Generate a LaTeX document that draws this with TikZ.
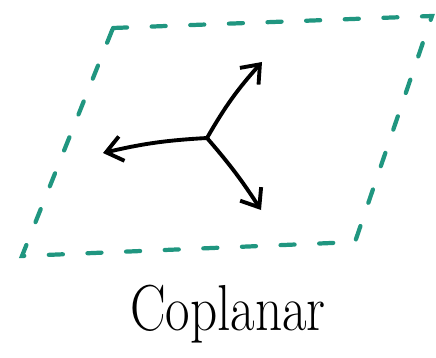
\documentclass[tikz,border=0pt]{standalone}
\usepackage{tikz}
\usetikzlibrary{arrows.meta}
\definecolor{planeteal}{RGB}{32,150,128}

\begin{document}
\begin{tikzpicture}[
  x=0.02cm, y=-0.02cm,
  plane/.style={planeteal,line width=2.4pt,line cap=round,dash pattern=on 8pt off 14pt},
  vector/.style={-{Straight Barb[length=3.2mm,width=5mm]},line width=2.2pt,line cap=round}
]
  \useasboundingbox (0,0) rectangle (436,358);

  % plane corners
  \coordinate (TL) at (113,28);
  \coordinate (TR) at (432,16);
  \coordinate (BR) at (355,242);
  \coordinate (BL) at (22,256);
  \draw[plane] (TL) -- (TR) -- (BR) -- (BL) -- cycle;

  % vectors in the plane
  \coordinate (O) at (207,138);
  \coordinate (U) at (262,62);
  \coordinate (V) at (103,153);
  \coordinate (W) at (261,210);
  \draw[vector] (O) to[bend left=6] (U);
  \draw[vector] (O) to[bend right=5] (V);
  \draw[vector] (O) to[bend left=4] (W);

  \node[font=\fontsize{37}{40}\selectfont] (label) at (228,314)
    {\scalebox{0.82}[1]{Coplanar}};
\end{tikzpicture}
\end{document}
